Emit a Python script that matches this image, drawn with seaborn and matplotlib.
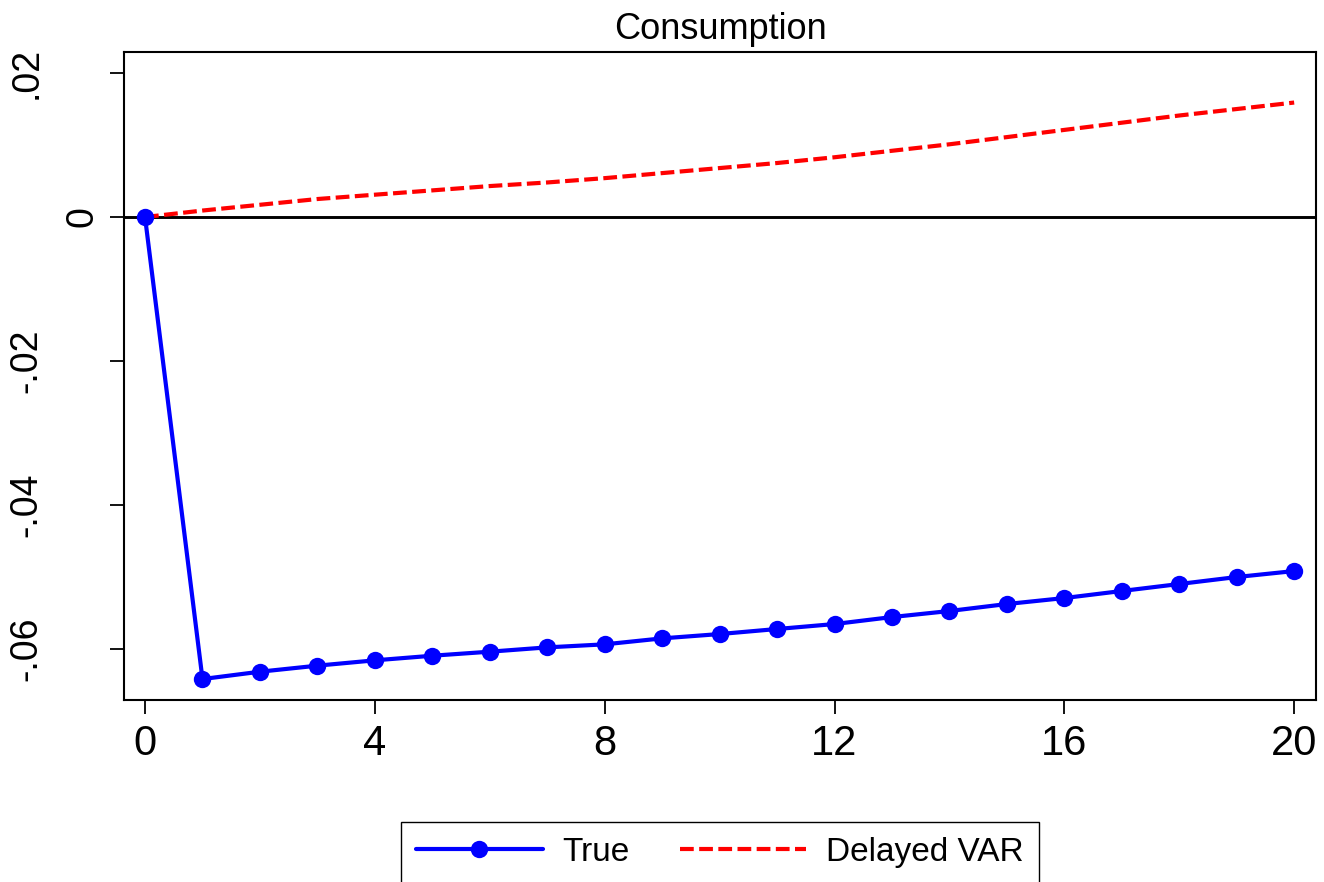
import matplotlib
matplotlib.use("Agg")
import matplotlib.pyplot as plt
import matplotlib.transforms as mtransforms
import seaborn as sns
import numpy as np
import pandas as pd

HORIZON = list(range(21))
TRUE_IRF = [0.0, -0.06417, -0.06315, -0.06231, -0.06157, -0.06093, -0.06037,
            -0.05977, -0.05935, -0.05852, -0.05792, -0.05722, -0.05653,
            -0.05556, -0.05472, -0.05375, -0.05292, -0.05194, -0.05097,
            -0.05000, -0.04917]
VAR_IRF = [0.0, 0.0009, 0.0017, 0.0025, 0.0031, 0.0037, 0.0043, 0.0048,
           0.0054, 0.0061, 0.0068, 0.0075, 0.0083, 0.0092, 0.0101, 0.0111,
           0.0121, 0.0131, 0.0141, 0.0150, 0.0159]
X_TICKS = [0, 4, 8, 12, 16, 20]
Y_TICKS = [0.02, 0.0, -0.02, -0.04, -0.06]
Y_TICK_LABELS = [".02", "0", "-.02", "-.04", "-.06"]

df = pd.DataFrame({"step": HORIZON, "true": TRUE_IRF, "var": VAR_IRF})

sns.set_style("white")
plt.rcParams["font.family"] = ["Liberation Sans", "DejaVu Sans"]
plt.rcParams["text.color"] = "black"
plt.rcParams["axes.labelcolor"] = "black"

W, H = 1324, 882
fig = plt.figure(figsize=(W / 100, H / 100), dpi=100)
ax = fig.add_axes([124 / W, 1 - 700 / H, (1316 - 124) / W, (700 - 52) / H])

ax.axhline(0, color="black", lw=2.1, zorder=1)
sns.lineplot(data=df, x="step", y="true", ax=ax, color="#0000ff", lw=3.0,
             marker="o", markersize=12.5, markeredgewidth=0, label="True", zorder=3)
sns.lineplot(data=df, x="step", y="var", ax=ax, color="#ff0000", lw=3.0,
             linestyle=(0, (3.3, 1.3)), label="Delayed VAR", zorder=2)

ax.set_xlim(-0.366, 20.38)
ax.set_ylim(-0.06708, 0.02292)
ax.set_xticks(X_TICKS)
ax.set_xticklabels([str(t) for t in X_TICKS], fontsize=30)
ax.set_yticks(Y_TICKS)
ax.set_yticklabels(Y_TICK_LABELS, fontsize=27, rotation=90, va="center", ha="right")
ax.tick_params(axis="x", bottom=True, top=False, direction="out", length=10,
               width=1.3, pad=7, colors="black", labelcolor="black")
ax.tick_params(axis="y", left=True, right=False, direction="out", length=10,
               width=1.3, pad=47, colors="black", labelcolor="black")
ax.set_xlabel("")
ax.set_ylabel("")
ax.set_title("Consumption", fontsize=26, pad=9, color="black")

for sp in ax.spines.values():
    sp.set_visible(True)
    sp.set_color("black")
    sp.set_linewidth(1.5)

ax.get_legend().remove()
handles, labels = ax.get_legend_handles_labels()
leg = fig.legend(handles, labels, loc="upper center", ncol=2,
                 bbox_to_anchor=(720 / W, 1 - 822 / H), bbox_transform=fig.transFigure,
                 fontsize=24, frameon=True, fancybox=False, framealpha=1,
                 handlelength=3.8, handletextpad=0.6, columnspacing=1.5,
                 borderpad=0.45, borderaxespad=0, numpoints=1)
leg.get_frame().set_edgecolor("black")
leg.get_frame().set_linewidth(1.0)
for t in leg.get_texts():
    t.set_color("black")

# the zero label sits closer to the axis than the others
fig.canvas.draw()
for lab in ax.get_yticklabels():
    if lab.get_text() == "0":
        lab.set_transform(lab.get_transform() +
                          mtransforms.ScaledTranslation(0.56, 0, fig.dpi_scale_trans))

fig.savefig("out.png", dpi=100)
plt.close(fig)
